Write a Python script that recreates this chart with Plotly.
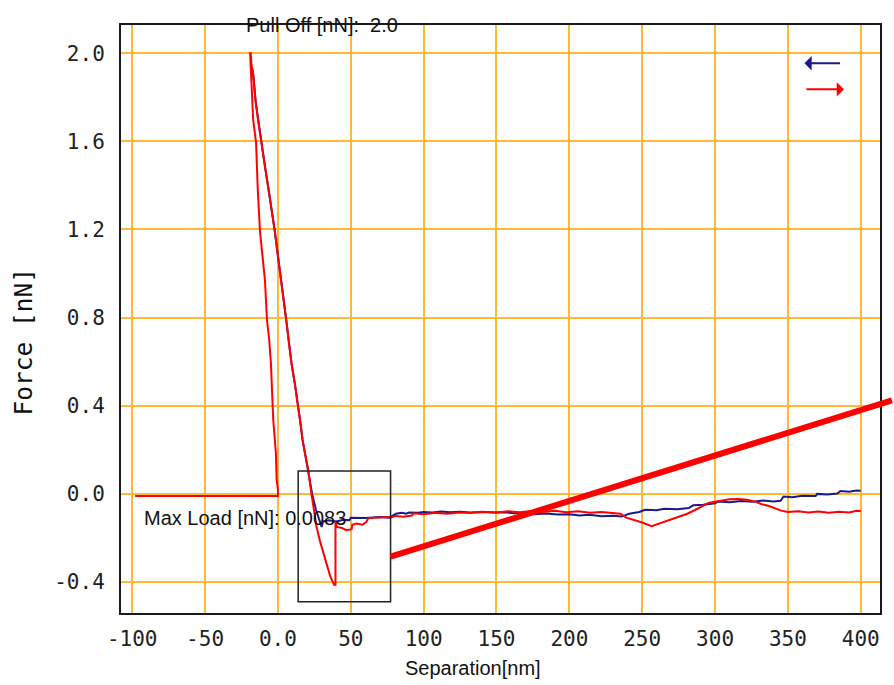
import plotly.graph_objects as go

# Force-separation curve: retract (blue) and approach (red) traces
blue_x = [-17.5, -16.9, -15.3, -13.5, -11.2, -9.0, -6.6, -4.3, -2.1, 0.0, 2.1, 4.0, 5.7, 7.5,
          9.3, 11.6, 13.9, 15.5, 16.9, 19.0, 20.8, 23.5, 26.0, 28.5, 30.0, 31.0, 35.0, 40.0,
          45.0, 49.0, 50.0, 60.0, 70.0, 76.6, 81.0, 85.0, 88.0, 90.0, 96.0, 100.0, 106.0,
          112.0, 118.0, 125.0, 132.0, 140.0, 148.0, 155.0, 162.0, 170.0, 176.0, 184.0, 192.0,
          200.0, 207.0, 214.0, 222.0, 230.0, 236.0, 241.0, 248.0, 252.0, 260.0, 265.0, 274.0,
          282.0, 285.0, 292.0, 300.0, 302.0, 310.0, 318.0, 326.0, 333.0, 340.0, 345.0, 347.0,
          353.0, 360.0, 369.0, 370.0, 377.0, 384.0, 386.0, 392.0, 397.0, 400.0]
blue_y = [1.93, 1.90, 1.78, 1.69, 1.59, 1.49, 1.39, 1.29, 1.19, 1.08, 0.98, 0.89, 0.79, 0.69,
          0.593, 0.50, 0.403, 0.32, 0.245, 0.17, 0.109, 0.0, -0.07, -0.12, -0.15, -0.125, -0.12,
          -0.125, -0.118, -0.12, -0.108, -0.11, -0.105, -0.108, -0.09, -0.086, -0.09, -0.085,
          -0.086, -0.082, -0.085, -0.08, -0.083, -0.081, -0.084, -0.082, -0.085, -0.083, -0.088,
          -0.086, -0.092, -0.089, -0.094, -0.092, -0.098, -0.095, -0.101, -0.099, -0.103, -0.09,
          -0.082, -0.072, -0.074, -0.068, -0.07, -0.064, -0.052, -0.049, -0.043, -0.035, -0.038,
          -0.032, -0.036, -0.03, -0.034, -0.031, -0.012, -0.015, -0.009, -0.01, 0.0, -0.003,
          0.002, 0.013, 0.01, 0.015, 0.014]

red_x = [-98.0, 0.0, 0.0, -0.9, -1.4, -2.2, -3.2, -4.0, -4.8, -6.0, -7.5, -8.9, -10.8, -12.3,
         -13.9, -15.0, -17.0, -17.6, -18.6, -19.1, -18.7, -18.2, -16.9, -15.3, -13.5, -11.2,
         -9.0, -6.6, -4.3, -2.1, 0.0, 2.1, 4.0, 5.7, 7.5, 9.3, 11.6, 13.9, 15.5, 16.9, 19.0,
         20.8, 23.0, 24.8, 26.5, 28.7, 31.0, 33.5, 36.0, 37.5, 38.5, 39.5, 39.5, 40.5, 44.0,
         47.0, 50.6, 51.0, 54.0, 58.0, 60.6, 62.0, 70.0, 76.6, 77.0, 81.0, 86.0, 92.0, 93.0,
         100.0, 108.0, 116.0, 124.0, 132.0, 140.0, 150.0, 158.0, 166.0, 174.0, 182.0, 190.0,
         198.0, 206.0, 214.0, 222.0, 229.0, 235.0, 239.0, 244.0, 250.0, 256.5, 263.3, 269.0,
         275.0, 281.0, 286.6, 291.0, 295.5, 300.0, 304.4, 310.0, 316.0, 322.0, 327.6, 332.0,
         336.5, 341.0, 345.4, 350.0, 357.0, 364.0, 371.0, 378.0, 385.0, 392.0, 397.0, 400.0]
red_y = [-0.01, -0.01, 0.02, 0.063, 0.186, 0.26, 0.335, 0.46, 0.593, 0.70, 0.788, 0.97, 1.08,
         1.19, 1.39, 1.594, 1.70, 1.784, 1.90, 2.0, 2.0, 1.95, 1.90, 1.78, 1.69, 1.59, 1.49,
         1.39, 1.29, 1.19, 1.08, 0.98, 0.89, 0.79, 0.69, 0.593, 0.50, 0.403, 0.32, 0.245, 0.17,
         0.109, 0.0, -0.075, -0.149, -0.21, -0.267, -0.32, -0.376, -0.40, -0.412, -0.412,
         -0.125, -0.15, -0.155, -0.165, -0.16, -0.14, -0.135, -0.14, -0.128, -0.11, -0.108,
         -0.105, -0.109, -0.10, -0.104, -0.098, -0.088, -0.092, -0.086, -0.09, -0.084, -0.087,
         -0.081, -0.085, -0.079, -0.083, -0.078, -0.082, -0.077, -0.083, -0.079, -0.086,
         -0.082, -0.088, -0.09, -0.108, -0.118, -0.13, -0.147, -0.131, -0.12, -0.103, -0.09,
         -0.072, -0.058, -0.041, -0.036, -0.03, -0.024, -0.023, -0.027, -0.035, -0.047, -0.054,
         -0.066, -0.076, -0.082, -0.079, -0.085, -0.08, -0.086, -0.081, -0.084, -0.077, -0.078]

x_ticks = [-100, -50, 0, 50, 100, 150, 200, 250, 300, 350, 400]
x_tick_text = ["-100", "-50", "0.0", "50", "100", "150", "200", "250", "300", "350", "400"]
y_ticks = [-0.4, 0.0, 0.4, 0.8, 1.2, 1.6, 2.0]
y_tick_text = ["-0.4", "0.0", "0.4", "0.8", "1.2", "1.6", "2.0"]

x_range = [-107.7, 413.2]
y_range = [-0.5406, 2.128]

# zoom box around the adhesion region and the pointer leading from it
box_x = [13.9, 77.3]
box_y = [-0.49, 0.104]
pointer_x = [77.3, 421.4]
pointer_y = [-0.285, 0.4245]

NAVY = "#1a1a8a"
RED = "#ff0000"
GRID = "#ffb934"
SANS = "Liberation Sans, Arial, sans-serif"
MONO = "DejaVu Sans Mono, monospace"


def to_paper(v, rng):
    return (v - rng[0]) / (rng[1] - rng[0])


fig = go.Figure()
fig.add_trace(go.Scatter(x=blue_x, y=blue_y, mode="lines",
                         line=dict(color=NAVY, width=2), showlegend=False))
fig.add_trace(go.Scatter(x=red_x, y=red_y, mode="lines",
                         line=dict(color=RED, width=2), showlegend=False))

fig.add_shape(type="rect", xref="x", yref="y",
              x0=box_x[0], x1=box_x[1], y0=box_y[0], y1=box_y[1],
              line=dict(color="#222222", width=1.5))
fig.add_shape(type="line", xref="paper", yref="paper",
              x0=to_paper(pointer_x[0], x_range), y0=to_paper(pointer_y[0], y_range),
              x1=to_paper(pointer_x[1], x_range), y1=to_paper(pointer_y[1], y_range),
              line=dict(color=RED, width=6))

annotations = [
    dict(text="Pull Off [nN]:  2.0", xref="paper", yref="paper",
         x=to_paper(30.0, x_range), y=1.0, xanchor="center", yanchor="middle",
         showarrow=False, font=dict(family=SANS, size=20, color="#111111")),
    dict(text="Max Load [nN]: 0.0083", xref="paper", yref="paper",
         x=to_paper(-93.5, x_range), y=to_paper(-0.11, y_range), xanchor="left",
         yanchor="middle", showarrow=False,
         font=dict(family=SANS, size=20, color="#111111")),
    dict(text="Separation[nm]", xref="paper", yref="paper",
         x=to_paper(134.0, x_range), y=-0.093, xanchor="center", yanchor="middle",
         showarrow=False, font=dict(family=SANS, size=20, color="#111111")),
    dict(text="Force [nN]", xref="paper", yref="paper", textangle=-90,
         x=-0.129, y=0.462, xanchor="center", yanchor="middle",
         showarrow=False, font=dict(family=MONO, size=24.5, color="#111111")),
    # direction key: retract (left arrow) and approach (right arrow)
    dict(text="", xref="paper", yref="paper", x=0.9005, y=0.935, ax=37, ay=0,
         showarrow=True, arrowhead=1, arrowsize=1.2, arrowwidth=2, arrowcolor=NAVY),
    dict(text="", xref="paper", yref="paper", x=0.9525, y=0.8906, ax=-39, ay=0,
         showarrow=True, arrowhead=1, arrowsize=1.2, arrowwidth=2, arrowcolor=RED),
]

fig.update_layout(
    width=894, height=685, autosize=False,
    margin=dict(l=121, r=12, t=25, b=72),
    paper_bgcolor="white", plot_bgcolor="white",
    annotations=annotations,
    xaxis=dict(range=x_range, tickvals=x_ticks, ticktext=x_tick_text,
               showgrid=True, gridcolor=GRID, gridwidth=2, zeroline=False,
               showline=True, linecolor="#1a1a1a", linewidth=2, mirror=True,
               ticks="", ticklabelstandoff=6,
               tickfont=dict(family=MONO, size=21, color="#222222")),
    yaxis=dict(range=y_range, tickvals=y_ticks, ticktext=y_tick_text,
               showgrid=True, gridcolor=GRID, gridwidth=2, zeroline=False,
               showline=True, linecolor="#1a1a1a", linewidth=2, mirror=True,
               ticks="", ticklabelstandoff=10,
               tickfont=dict(family=MONO, size=21, color="#222222")),
)

fig.write_html("out.html")
